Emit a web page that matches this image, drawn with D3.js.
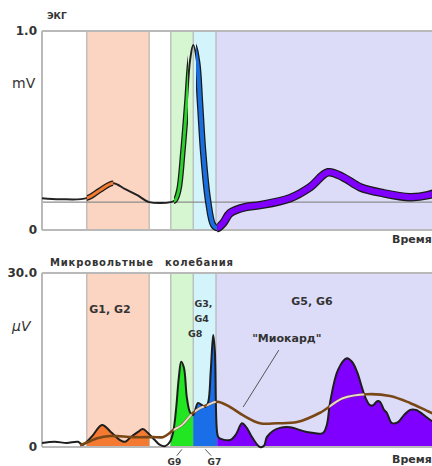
<!DOCTYPE html>
<html><head><meta charset="utf-8">
<script src="https://cdn.jsdelivr.net/npm/d3@7"></script>
<style>
body{margin:0;background:#fff}
svg{display:block}
text{font-family:"DejaVu Sans",Verdana,sans-serif;fill:#333}
</style>
</head><body>
<svg id="c" width="432" height="466"></svg>
<script>
// ---------- data ----------
const bandEdges  = [0, 11.2, 26.8, 32.2, 37.8, 43.5, 100];
const bandColors = ["#ffffff", "#fbd4c2", "#ffffff", "#d5f6d1", "#d4f4fb", "#dcdcf9"];

const topTicks = [0, 1];
const topTickLabels = ["0", "1.0"];
const bottomTicks = [0, 30];
const bottomTickLabels = ["0", "30.0"];

const ecgTime = [0,4.5,11.2,14.5,17.8,20.8,23.8,26.8,32.2,33.3,34.2,35.2,36.2,37,37.8,38.8,39.5,40.3,41.5,42.8,43.8,45.3,47,50.8,54.5,62,67,71.5,75.3,79.5,85.3,92,96.5,100];
const ecgMv   = [0.16,0.155,0.16,0.20,0.235,0.205,0.175,0.14,0.14,0.15,0.20,0.39,0.64,0.85,0.93,0.84,0.64,0.39,0.15,0.025,0.01,0.035,0.085,0.115,0.125,0.16,0.215,0.29,0.265,0.215,0.185,0.165,0.175,0.2];
const ecgBaseline = 0.14;

const ecgSegFrom   = [11.2, 33, 38.5, 43.8];
const ecgSegTo     = [17.8, 36.5, 43.8, 100];
const ecgSegColors = ["#f07a30", "#2ed02e", "#1a6fe0", "#8000ff"];
const ecgSegWidths = [3, 3, 4, 6];

const mvTime = [0,3.2,6.2,9,10.2,11.2,12.8,15,17.5,19.5,20.8,22,24,25.2,26.5,28.2,29.5,30.8,32,32.8,33.5,34.2,34.8,35.5,36.2,37,37.8,39,40,40.8,41.5,42.2,42.8,43.2,43.8,44.2,47,48.5,50,51.2,52.5,54.5,55.5,56.2,57.8,59.5,62,66.2,70.2,71.2,72,74,76.2,77.5,78.8,79.8,80.8,82,82.8,83.8,84.5,85.5,86.2,87.5,89,90.5,92,93.5,94.5,97,100];
const mvValues = [0.7,0.9,0.7,0.9,0.35,0.9,2.1,3.8,2.4,1.2,0.9,1.6,2.6,3.1,2.4,1.2,0.35,0.15,0.9,2.6,6.4,11.9,14.7,13.6,8.6,6.0,5.5,7.6,7.2,6.9,7.6,13.3,19.3,16.7,2.4,1.6,1.2,2.2,4.1,3.3,1.7,0,0.2,1.7,2.8,3.3,3.4,2.6,2.4,3.8,7.6,13.3,15.3,14.7,12.9,10.7,8.6,7.2,7.2,7.9,7.8,6.4,5.9,4.1,4.3,5.5,6.4,6.4,6.0,4.7,3.3];

const fillFrom   = [11.2, 32.2, 37.8, 43.8];
const fillTo     = [26.8, 37.8, 43.8, 100];
const fillColors = ["#f47a32", "#22e622", "#1a6ee8", "#8000ff"];

const myoTime   = [9.5,12,13.8,17,22.8,27.8,30.2,31.5,32.8,35,37.8,39.5,41.2,43.8,47,50.2,54.5,58.8,63.8,69.5,75.2,81.2,87,92,97,100];
const myoValues = [0.3,1.0,1.5,1.9,1.7,1.7,1.7,2.2,2.9,3.8,5.9,6.7,7.2,7.8,6.9,5.5,4.1,4.1,4.3,5.9,8.4,9.1,8.8,7.6,6.0,5.2];

// ---------- scales ----------
const svg = d3.select("#c");
const x = d3.scaleLinear().domain([0, 100]).range([42, 442]);
const yTop = d3.scaleLinear().domain([0, 1]).range([230, 31]);
const yBot = d3.scaleLinear().domain([0, 30]).range([447, 273]);
const defs = svg.append("defs");
const curve = d3.curveCatmullRom.alpha(0.5);

function drawPanel(y){
  const y0 = y.range()[0], y1 = y.range()[1];
  const g = svg.append("g");
  g.selectAll("rect.band").data(bandColors).join("rect")
    .attr("x", (d,i)=>x(bandEdges[i])).attr("width",(d,i)=>x(bandEdges[i+1])-x(bandEdges[i]))
    .attr("y", y1).attr("height", y0-y1).attr("fill", d=>d);
  g.selectAll("line.edge").data(bandEdges.slice(1,-1)).join("line")
    .attr("x1", d=>x(d)).attr("x2", d=>x(d)).attr("y1", y1).attr("y2", y0)
    .attr("stroke", "#a9a9a9").attr("stroke-width", 1);
  return g;
}
function drawFrame(y){
  const y0 = y.range()[0], y1 = y.range()[1];
  const f = svg.append("g").attr("stroke","#b9b9b9").attr("stroke-width",2);
  f.append("line").attr("x1",x(0)).attr("x2",x(100)).attr("y1",y1).attr("y2",y1);
  f.append("line").attr("x1",x(0)).attr("x2",x(100)).attr("y1",y0).attr("y2",y0);
  f.append("line").attr("x1",x(0)).attr("x2",x(0)).attr("y1",y1).attr("y2",y0);
}
function clipRect(id, from, to){
  defs.append("clipPath").attr("id", id).append("rect")
    .attr("x", x(from)).attr("width", x(to)-x(from)).attr("y", 0).attr("height", 466);
  return "url(#"+id+")";
}

// ---------- top ECG ----------
drawPanel(yTop);
svg.append("line").attr("x1",x(0)).attr("x2",x(100))
  .attr("y1",yTop(ecgBaseline)).attr("y2",yTop(ecgBaseline))
  .attr("stroke","#8c8c8c").attr("stroke-width",1.2);
drawFrame(yTop);

const ecgPts = ecgTime.map((t,i)=>[t, ecgMv[i]]);
const ecgLine = d3.line().x(d=>x(d[0])).y(d=>yTop(d[1])).curve(curve);
svg.append("path").attr("d", ecgLine(ecgPts)).attr("fill","none")
  .attr("stroke","#222").attr("stroke-width",2);
ecgSegColors.forEach((c,i)=>{
  const cp = clipRect("ecgseg"+i, ecgSegFrom[i], ecgSegTo[i]);
  const gg = svg.append("g").attr("clip-path", cp);
  gg.append("path").attr("d", ecgLine(ecgPts)).attr("fill","none")
    .attr("stroke","#1a1a1a").attr("stroke-width", ecgSegWidths[i]+2.5).attr("stroke-linejoin","round");
  gg.append("path").attr("d", ecgLine(ecgPts)).attr("fill","none")
    .attr("stroke", c).attr("stroke-width", ecgSegWidths[i]).attr("stroke-linejoin","round");
});

const axTop = svg.append("g").attr("transform","translate(42,0)")
  .call(d3.axisLeft(yTop).tickValues(topTicks).tickSize(0).tickPadding(5)
    .tickFormat((d,i)=>topTickLabels[i]));
axTop.select(".domain").remove();
axTop.selectAll("text").attr("font-size",12).attr("font-weight","bold")
  .attr("font-family","DejaVu Sans").attr("fill","#333");

svg.append("text").attr("x",47).attr("y",19).attr("font-size",9).attr("font-weight","bold").text("ЭКГ");
svg.append("text").attr("x",12).attr("y",88).attr("font-size",14).text("mV");
svg.append("text").attr("x",392).attr("y",243).attr("font-size",11).attr("font-weight","bold").text("Время");

// ---------- bottom microvolt ----------
drawPanel(yBot);

const mvPts = mvTime.map((t,i)=>[t, mvValues[i]]);
const mvArea = d3.area().x(d=>x(d[0])).y0(yBot(0)).y1(d=>yBot(d[1])).curve(curve);
const mvLine = d3.line().x(d=>x(d[0])).y(d=>yBot(d[1])).curve(curve);
fillColors.forEach((c,i)=>{
  const cp = clipRect("fill"+i, fillFrom[i], fillTo[i]);
  svg.append("path").attr("d", mvArea(mvPts)).attr("fill", c).attr("clip-path", cp);
});
drawFrame(yBot);

svg.append("path").attr("d", mvLine(mvPts)).attr("fill","none")
  .attr("stroke","#1e1e1e").attr("stroke-width",2);

const myoPts = myoTime.map((t,i)=>[t, myoValues[i]]);
const myoLine = d3.line().x(d=>x(d[0])).y(d=>yBot(d[1])).curve(curve);
svg.append("path").attr("d", myoLine(myoPts)).attr("fill","none")
  .attr("stroke","#7a4716").attr("stroke-width",2.6);
// light trace where the myocardium line lies inside the filled area
defs.append("clipPath").attr("id","insideFill").append("path")
  .attr("d", mvArea(mvPts.filter(d=>d[0] >= fillFrom[1]-0.2)));
svg.append("path").attr("d", myoLine(myoPts)).attr("fill","none")
  .attr("stroke","#ffffff").attr("stroke-opacity",0.8).attr("stroke-width",2)
  .attr("clip-path","url(#insideFill)");

const axBot = svg.append("g").attr("transform","translate(42,0)")
  .call(d3.axisLeft(yBot).tickValues(bottomTicks).tickSize(0).tickPadding(5)
    .tickFormat((d,i)=>bottomTickLabels[i]));
axBot.select(".domain").remove();
axBot.selectAll("text").attr("font-size",12).attr("font-weight","bold")
  .attr("font-family","DejaVu Sans").attr("fill","#333");

svg.append("text").attr("x",50).attr("y",266).attr("font-size",10).attr("font-weight","bold")
  .attr("textLength",103).attr("lengthAdjust","spacing").text("Микровольтные");
svg.append("text").attr("x",165).attr("y",266).attr("font-size",10).attr("font-weight","bold")
  .attr("textLength",68).attr("lengthAdjust","spacing").text("колебания");
svg.append("text").attr("x",12).attr("y",331).attr("font-size",14).attr("font-style","italic").text("µV");
svg.append("text").attr("x",392).attr("y",463).attr("font-size",11).attr("font-weight","bold").text("Время");

// band labels
svg.append("text").attr("x",x(17)).attr("y",313).attr("text-anchor","middle")
  .attr("font-size",11).attr("font-weight","bold").text("G1, G2");
svg.append("text").attr("x",x(67.5)).attr("y",305).attr("text-anchor","middle")
  .attr("font-size",11).attr("font-weight","bold").text("G5, G6");
svg.append("text").attr("x",x(38.1)).attr("y",307).attr("font-size",9.5).attr("font-weight","bold").text("G3,");
svg.append("text").attr("x",x(38.1)).attr("y",322).attr("font-size",9.5).attr("font-weight","bold").text("G4");
svg.append("text").attr("x",x(36.5)).attr("y",337).attr("font-size",9.5).attr("font-weight","bold").text("G8");
svg.append("text").attr("x",x(61.2)).attr("y",342).attr("text-anchor","middle")
  .attr("font-size",11).attr("font-weight","bold").text("\"Миокард\"");

// leader lines
const lead = svg.append("g").attr("stroke","#555").attr("stroke-width",1);
lead.append("line").attr("x1",x(59.2)).attr("y1",yBot(16.7)).attr("x2",x(50.3)).attr("y2",yBot(6.9));
lead.append("line").attr("x1",x(35)).attr("y1",yBot(-0.4)).attr("x2",x(33.7)).attr("y2",yBot(-1.5));
lead.append("line").attr("x1",x(40.8)).attr("y1",yBot(-0.4)).attr("x2",x(42.3)).attr("y2",yBot(-1.5));
svg.append("text").attr("x",x(31.4)).attr("y",464.5).attr("font-size",9).attr("font-weight","bold").text("G9");
svg.append("text").attr("x",x(41.4)).attr("y",464.5).attr("font-size",9).attr("font-weight","bold").text("G7");
</script>
</body></html>
